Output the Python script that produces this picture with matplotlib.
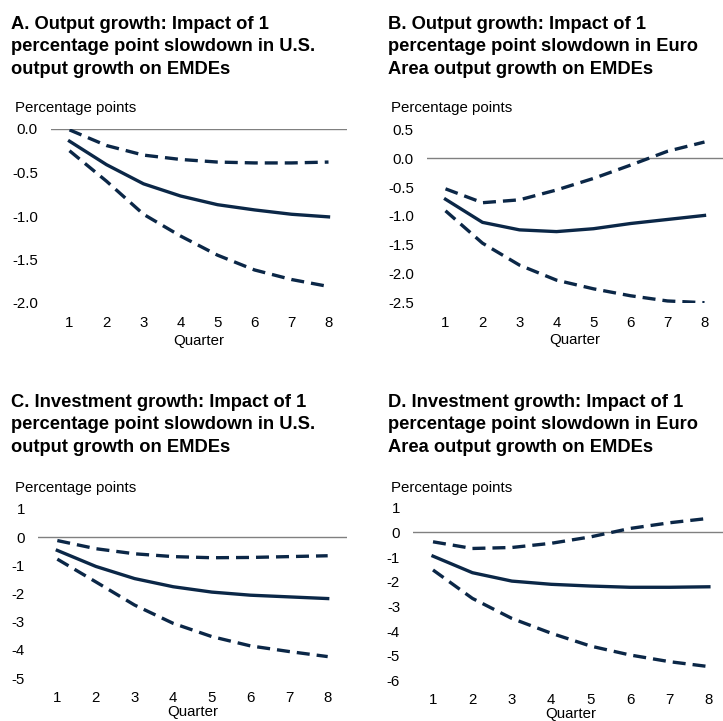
import matplotlib
matplotlib.use("Agg")
import matplotlib.pyplot as plt

# ─── Data ────────────────────────────────────────────────────────────────────
quarters = [1, 2, 3, 4, 5, 6, 7, 8]

# A. Output growth, U.S. shock
a_median = [-0.14, -0.41, -0.63, -0.77, -0.87, -0.93, -0.98, -1.01]
a_upper  = [-0.01, -0.19, -0.30, -0.35, -0.38, -0.39, -0.39, -0.38]
a_lower  = [-0.25, -0.60, -0.98, -1.23, -1.45, -1.62, -1.73, -1.81]

# B. Output growth, Euro Area shock
b_median = [-0.71, -1.11, -1.24, -1.27, -1.22, -1.13, -1.06, -0.99]
b_upper  = [-0.53, -0.77, -0.72, -0.55, -0.35, -0.12, 0.12, 0.28]
b_lower  = [-0.91, -1.47, -1.85, -2.11, -2.26, -2.38, -2.47, -2.50]

# C. Investment growth, U.S. shock
c_median = [-0.47, -1.04, -1.47, -1.76, -1.95, -2.06, -2.12, -2.18]
c_upper  = [-0.12, -0.41, -0.59, -0.69, -0.73, -0.72, -0.69, -0.66]
c_lower  = [-0.78, -1.59, -2.41, -3.06, -3.53, -3.86, -4.06, -4.24]

# D. Investment growth, Euro Area shock
d_median = [-0.96, -1.63, -1.97, -2.10, -2.17, -2.22, -2.22, -2.20]
d_upper  = [-0.38, -0.65, -0.61, -0.44, -0.18, 0.16, 0.39, 0.57]
d_lower  = [-1.52, -2.67, -3.48, -4.08, -4.60, -4.96, -5.23, -5.43]

titles = [
    "A. Output growth: Impact of 1\npercentage point slowdown in U.S.\noutput growth on EMDEs",
    "B. Output growth: Impact of 1\npercentage point slowdown in Euro\nArea output growth on EMDEs",
    "C. Investment growth: Impact of 1\npercentage point slowdown in U.S.\noutput growth on EMDEs",
    "D. Investment growth: Impact of 1\npercentage point slowdown in Euro\nArea output growth on EMDEs",
]

a_yticks = [0.0, -0.5, -1.0, -1.5, -2.0]
b_yticks = [0.5, 0.0, -0.5, -1.0, -1.5, -2.0, -2.5]
c_yticks = [1, 0, -1, -2, -3, -4, -5]
d_yticks = [1, 0, -1, -2, -3, -4, -5, -6]

# ─── Style ───────────────────────────────────────────────────────────────────
NAVY = "#0b2747"
GREY = "#808080"
W, H = 723, 721
DASH = (0, (3.9, 2.1))
plt.rcParams["font.family"] = ["Liberation Sans", "DejaVu Sans"]

fig = plt.figure(figsize=(W / 100, H / 100), dpi=100)


def px_axes(left, right, top, bottom):
    """Axes from pixel edges (top-origin)."""
    return fig.add_axes([left / W, 1 - bottom / H, (right - left) / W, (bottom - top) / H])


panels = [
    # (pixel box, title xy, ylabel xy, data, yticks, fmt, xtick pad, xlabel pad)
    ((51, 347, 129, 303), (11, 16), (15, 108),
     (a_median, a_upper, a_lower), a_yticks, "{:.1f}", 9.5, 2.5),
    ((427, 723, 129.3, 302.7), (388, 16), (391, 108),
     (b_median, b_upper, b_lower), b_yticks, "{:.1f}", 9.5, 2.5),
    ((38, 347, 509, 678), (11, 394), (15, 488),
     (c_median, c_upper, c_lower), c_yticks, "{:.0f}", 9.5, 0),
    ((413.3, 728.6, 507.7, 680.7), (388, 394), (391, 488),
     (d_median, d_upper, d_lower), d_yticks, "{:.0f}", 8.5, 0),
]

for (box, tpos, lpos, series, yticks, fmt, tpad, xpad), title in zip(panels, titles):
    ax = px_axes(*box)
    med, up, lo = series
    ax.axhline(0, color=GREY, lw=1.0, zorder=1)
    ax.plot(quarters, med, color=NAVY, lw=2.4, zorder=3)
    ax.plot(quarters, up, color=NAVY, lw=2.4, ls=DASH, zorder=3)
    ax.plot(quarters, lo, color=NAVY, lw=2.4, ls=DASH, zorder=3)

    ax.set_xlim(0.5, 8.5)
    ax.set_ylim(min(yticks), max(yticks))
    ax.set_xticks(quarters)
    ax.set_yticks(yticks)
    ax.set_yticklabels([fmt.format(v) for v in yticks])
    ax.tick_params(length=0, labelsize=10.8, pad=9.5, colors="black")
    ax.tick_params(axis="x", pad=tpad)
    ax.set_xlabel("Quarter", fontsize=10.8, labelpad=xpad)
    for s in ax.spines.values():
        s.set_visible(False)
    ax.patch.set_visible(False)

    fig.text(tpos[0] / W, 1 - tpos[1] / H, title, fontsize=13.2, fontweight="bold",
             ha="left", va="top", linespacing=1.42)
    fig.text(lpos[0] / W, 1 - lpos[1] / H, "Percentage points", fontsize=10.8,
             ha="left", va="center")

fig.savefig("out.png", dpi=100)
